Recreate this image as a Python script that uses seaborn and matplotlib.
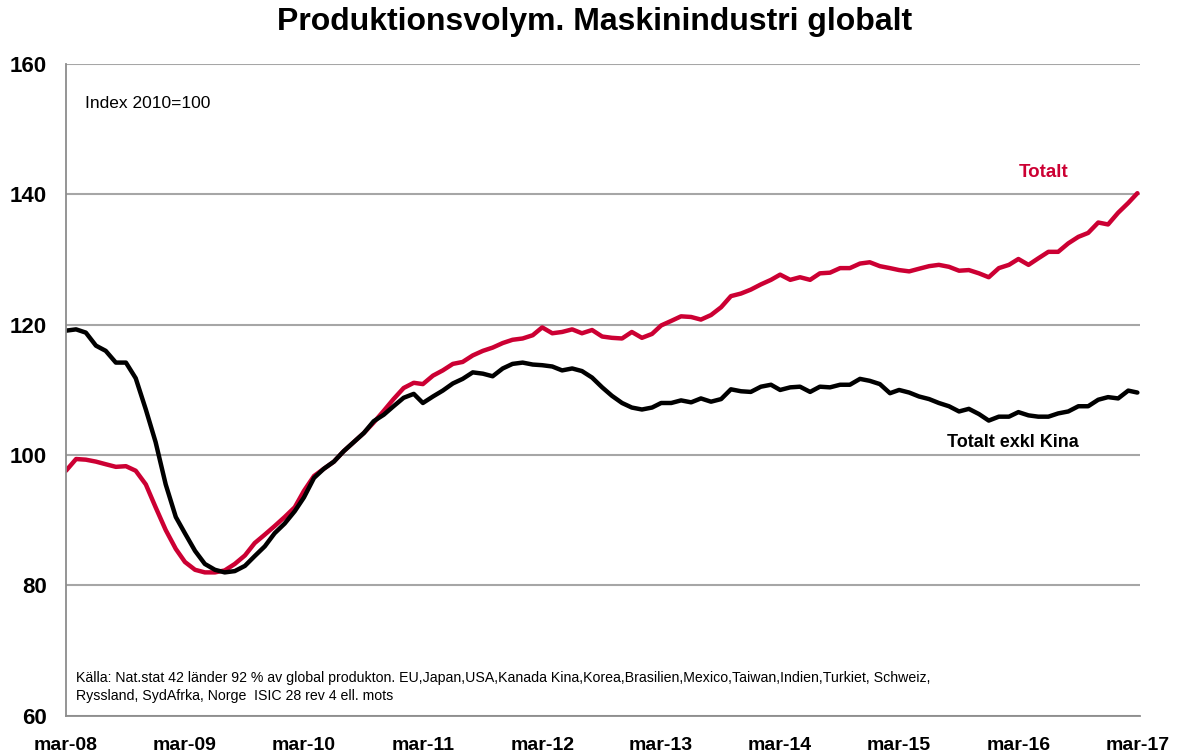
import pandas as pd
import matplotlib.pyplot as plt
import seaborn as sns

# monthly index values, mar-08 .. mar-17 (2010=100)
months = pd.date_range("2008-03-01", "2017-03-01", freq="MS")

totalt = [
    97.6, 99.4, 99.3, 99.0, 98.6, 98.2, 98.3, 97.6, 95.5, 92.0, 88.5, 85.6,
    83.6, 82.4, 82.0, 82.0, 82.3, 83.3, 84.6, 86.5, 87.8, 89.1, 90.5, 92.0,
    94.5, 96.8, 97.9, 99.0, 100.6, 102.0, 103.4, 105.0, 106.8, 108.6, 110.3, 111.1,
    110.9, 112.2, 113.0, 114.0, 114.3, 115.3, 116.0, 116.5, 117.2, 117.7, 117.9, 118.4,
    119.6, 118.7, 118.9, 119.3, 118.7, 119.2, 118.2, 118.0, 117.9, 118.9, 118.0, 118.6,
    119.9, 120.6, 121.3, 121.2, 120.8, 121.5, 122.7, 124.4, 124.8, 125.4, 126.2, 126.9,
    127.7, 126.9, 127.3, 126.9, 127.9, 128.0, 128.7, 128.7, 129.4, 129.6, 129.0, 128.7,
    128.4, 128.2, 128.6, 129.0, 129.2, 128.9, 128.3, 128.4, 127.9, 127.3, 128.7, 129.2,
    130.1, 129.2, 130.2, 131.2, 131.2, 132.5, 133.5, 134.1, 135.7, 135.4, 137.2, 138.7,
    140.2,
]

exkl_kina = [
    119.1, 119.3, 118.8, 116.8, 116.0, 114.2, 114.2, 111.8, 107.0, 102.0, 95.5, 90.5,
    88.0, 85.3, 83.3, 82.4, 82.0, 82.2, 83.0, 84.5, 86.0, 88.0, 89.5, 91.4,
    93.5, 96.5, 97.9, 99.0, 100.6, 102.0, 103.4, 105.2, 106.2, 107.5, 108.8, 109.4,
    108.0, 109.0, 109.9, 111.0, 111.7, 112.7, 112.5, 112.1, 113.3, 114.0, 114.2, 113.9,
    113.8, 113.6, 113.0, 113.3, 112.9, 111.9, 110.4, 109.1, 108.0, 107.3, 107.0, 107.3,
    108.0, 108.0, 108.4, 108.1, 108.7, 108.2, 108.6, 110.1, 109.8, 109.7, 110.5, 110.8,
    110.0, 110.4, 110.5, 109.7, 110.5, 110.4, 110.8, 110.8, 111.7, 111.4, 110.9, 109.5,
    110.0, 109.6, 109.0, 108.6, 108.0, 107.5, 106.7, 107.1, 106.3, 105.3, 105.9, 105.9,
    106.6, 106.1, 105.9, 105.9, 106.4, 106.7, 107.5, 107.5, 108.5, 108.9, 108.7, 109.9,
    109.6,
]

series_names = ["Totalt", "Totalt exkl Kina"]
y_ticks = [60, 80, 100, 120, 140, 160]
x_tick_labels = ["mar-08", "mar-09", "mar-10", "mar-11", "mar-12",
                 "mar-13", "mar-14", "mar-15", "mar-16", "mar-17"]

RED = "#CC0033"
BLACK = "#000000"
GREY = "#A6A6A6"

df = pd.DataFrame({"month": months, "Totalt": totalt, "Totalt exkl Kina": exkl_kina})
long_df = df.melt(id_vars="month", var_name="serie", value_name="index")

sns.set_style("white")
plt.rcParams["font.family"] = ["Liberation Sans", "DejaVu Sans"]
plt.rcParams["text.color"] = "black"
plt.rcParams["xtick.labelcolor"] = "black"
plt.rcParams["ytick.labelcolor"] = "black"

fig = plt.figure(figsize=(11.78, 7.55), dpi=100)
ax = fig.add_axes([0.056, 0.052, 0.912, 0.863])

sns.lineplot(data=long_df, x="month", y="index", hue="serie",
             hue_order=series_names, palette=[RED, BLACK],
             linewidth=3.2, legend=False, ax=ax)

ax.set_ylim(60, 160)
ax.set_yticks(y_ticks)
x_ticks = pd.date_range("2008-03-01", "2017-03-01", freq="12MS")
ax.set_xticks(x_ticks)
ax.set_xticklabels(x_tick_labels)
ax.set_xlim(months[0], months[-1] + pd.Timedelta(days=9))

ax.set_xlabel("")
ax.set_ylabel("")
ax.yaxis.grid(True, color=GREY, linewidth=1.5)
ax.set_axisbelow(True)
for side in ["top", "right"]:
    ax.spines[side].set_visible(False)
for side in ["left", "bottom"]:
    ax.spines[side].set_color("#8C8C8C")
    ax.spines[side].set_linewidth(1.3)

ax.tick_params(axis="y", direction="out", length=6, width=1.3, color="#8C8C8C",
               labelcolor="black", labelsize=16, pad=8)
ax.tick_params(axis="x", direction="out", length=6, width=1.3, color="#8C8C8C",
               labelcolor="black", labelsize=14, pad=9)
for lbl in ax.get_xticklabels() + ax.get_yticklabels():
    lbl.set_fontweight("bold")

fig.text(0.505, 0.971, "Produktionsvolym. Maskinindustri globalt",
         ha="center", va="center", fontsize=23, fontweight="bold", color="black")

ax.text(0.018, 0.940, "Index 2010=100", transform=ax.transAxes,
        ha="left", va="center", fontsize=12.5)
ax.text(0.910, 0.834, "Totalt", transform=ax.transAxes, color=RED,
        ha="center", va="center", fontsize=13.5, fontweight="bold")
ax.text(0.881, 0.419, "Totalt exkl Kina", transform=ax.transAxes, color=BLACK,
        ha="center", va="center", fontsize=13, fontweight="bold")
ax.text(0.0093, 0.0437,
        "Källa: Nat.stat 42 länder 92 % av global produkton. EU,Japan,USA,Kanada Kina,Korea,"
        "Brasilien,Mexico,Taiwan,Indien,Turkiet, Schweiz,\n"
        "Ryssland, SydAfrka, Norge  ISIC 28 rev 4 ell. mots",
        transform=ax.transAxes, ha="left", va="center", fontsize=10.2, linespacing=1.35)

fig.savefig("out.png", dpi=100)
